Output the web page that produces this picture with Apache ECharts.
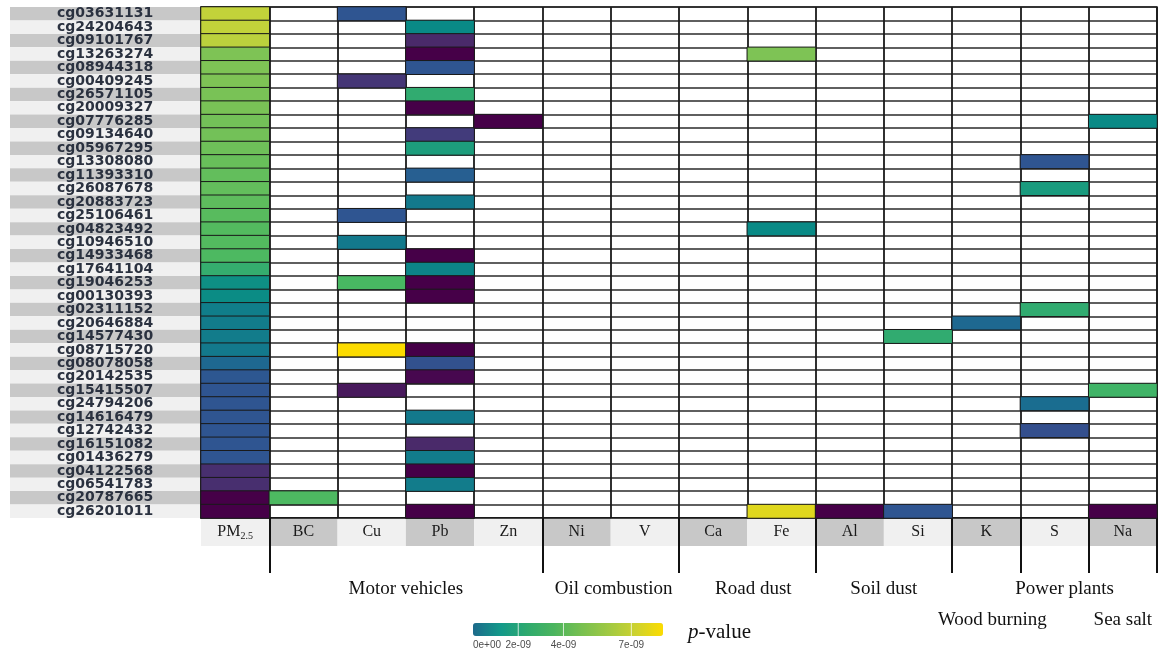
<!DOCTYPE html>
<html><head><meta charset="utf-8">
<script src="https://cdn.jsdelivr.net/npm/echarts@6/dist/echarts.min.js"></script>
<style>html,body{margin:0;padding:0;background:#fff}#c{width:1170px;height:656px}</style>
</head><body><div id="c"></div><script>
// ---------- data ----------
const cpgSites = ['cg03631131','cg24204643','cg09101767','cg13263274','cg08944318','cg00409245','cg26571105','cg20009327','cg07776285','cg09134640','cg05967295','cg13308080','cg11393310','cg26087678','cg20883723','cg25106461','cg04823492','cg10946510','cg14933468','cg17641104','cg19046253','cg00130393','cg02311152','cg20646884','cg14577430','cg08715720','cg08078058','cg20142535','cg15415507','cg24794206','cg14616479','cg12742432','cg16151082','cg01436279','cg04122568','cg06541783','cg20787665','cg26201011'];
const pollutants = ['PM2.5','BC','Cu','Pb','Zn','Ni','V','Ca','Fe','Al','Si','K','S','Na'];

// colour level (0 = darkest, 1 = brightest) read from each cell
const pm25Level = [0.90,0.90,0.89,0.80,0.80,0.80,0.79,0.79,0.78,0.78,0.77,0.76,0.75,0.75,0.74,0.73,0.72,0.72,0.71,0.65,0.52,0.51,0.46,0.45,0.45,0.44,0.38,0.31,0.30,0.30,0.30,0.30,0.30,0.30,0.12,0.12,0.00,0.00];
const bcLevel = [['cg20787665',0.71]];
const cuLevel = [['cg03631131',0.30],['cg00409245',0.15],['cg25106461',0.30],['cg10946510',0.44],['cg19046253',0.70],['cg08715720',1.00],['cg15415507',0.06]];
const pbLevel = [['cg24204643',0.50],['cg09101767',0.10],['cg13263274',0.00],['cg08944318',0.30],['cg26571105',0.64],['cg20009327',0.00],['cg09134640',0.17],['cg05967295',0.58],['cg11393310',0.34],['cg20883723',0.44],['cg14933468',0.00],['cg17641104',0.48],['cg19046253',0.00],['cg00130393',0.00],['cg08715720',0.00],['cg08078058',0.28],['cg20142535',0.02],['cg14616479',0.44],['cg16151082',0.10],['cg01436279',0.45],['cg04122568',0.00],['cg06541783',0.45],['cg26201011',0.00]];
const znLevel = [['cg07776285',0.00]];
const niLevel = [];
const vLevel = [];
const caLevel = [];
const feLevel = [['cg13263274',0.80],['cg04823492',0.50],['cg26201011',0.95]];
const alLevel = [['cg26201011',0.00]];
const siLevel = [['cg14577430',0.64],['cg26201011',0.30]];
const kLevel = [['cg20646884',0.38]];
const sLevel = [['cg13308080',0.30],['cg26087678',0.57],['cg02311152',0.64],['cg24794206',0.40],['cg12742432',0.27]];
const naLevel = [['cg07776285',0.50],['cg15415507',0.68],['cg26201011',0.00]];

// source groups
const groupNames = ['Motor vehicles','Oil combustion','Road dust','Soil dust','Power plants','Wood burning','Sea salt'];
const groupFirst = ['BC','Ni','Ca','Al','S','K','Na'];
const groupLast  = ['Zn','V','Fe','Si','S','K','Na'];
const groupTier  = [0,0,0,0,0,1,1];
const separatorStarts = ['BC','Ni','Ca','Al','K','S','Na'];

// colour legend
const legendMax = 8.4e-9;
const legendTickValues = [0, 2e-9, 4e-9, 7e-9];
const legendTickLabels = ['0e+00','2e-09','4e-09','7e-09'];

// ---------- build ----------
const levelPalette = ['#460048','#4a2a6a','#3f4282','#2f5591','#1a6d90','#098a86','#22a27a','#48b862','#7ec355','#c2d23a','#fcdc00'];
const legendColors = ['#1d6a8b','#13998a','#2eaa6e','#4cb55e','#78c050','#a0c943','#cdd22f','#fcdc00'];

const sparseCols = [bcLevel,cuLevel,pbLevel,znLevel,niLevel,vLevel,caLevel,feLevel,alLevel,siLevel,kLevel,sLevel,naLevel];
const cells = [];
pm25Level.forEach((v,i)=>cells.push([0,i,v]));
sparseCols.forEach((col,ci)=>col.forEach(([site,v])=>cells.push([ci+1,cpgSites.indexOf(site),v])));
const sepIdx = separatorStarts.map(p=>pollutants.indexOf(p));

const serif = '"Liberation Serif","Times New Roman",serif';
const chart = echarts.init(document.getElementById('c'));
chart.setOption({
  animation:false,
  backgroundColor:'#fff',
  grid:[
    {left:201,right:13,top:7,bottom:138,show:true,borderColor:'#1e1e1e',borderWidth:1.5,backgroundColor:'#fff'},
    {left:201,right:13,top:518,height:28},
    {left:10,width:191,top:7,bottom:138}
  ],
  xAxis:[
    {gridIndex:0,type:'category',data:pollutants,position:'bottom',
     axisLine:{show:true,onZero:false,lineStyle:{color:'#111',width:1.5}},axisTick:{show:false},axisLabel:{show:false},
     splitLine:{show:true,interval:0,lineStyle:{color:'#1a1a1a',width:1.8}}},
    {gridIndex:1,type:'category',data:pollutants,position:'top',
     axisLine:{show:false,onZero:false},
     axisTick:{show:true,inside:true,length:55,interval:(i)=>sepIdx.includes(i),lineStyle:{color:'#111',width:2}},
     axisLabel:{inside:true,margin:14,interval:0,verticalAlign:'middle',fontFamily:serif,fontSize:16,color:'#1a1a1a',
       formatter:(v)=>v==='PM2.5'?'{a|PM}{s|2.5}':v,
       rich:{a:{fontFamily:serif,fontSize:16,lineHeight:20,color:'#1a1a1a'},
             s:{fontFamily:serif,fontSize:10,lineHeight:20,padding:[8,0,0,0],color:'#1a1a1a'}}},
     splitArea:{show:true,interval:0,areaStyle:{color:['#f0f0f0','#c8c8c8']}}},
    {gridIndex:2,type:'value',show:false}
  ],
  yAxis:[
    {gridIndex:0,type:'category',data:cpgSites,inverse:true,
     axisLine:{show:false},axisTick:{show:false},axisLabel:{show:false},
     splitLine:{show:true,interval:0,lineStyle:{color:'#2a2a2a',width:1.5}}},
    {gridIndex:1,type:'value',show:false},
    {gridIndex:2,type:'category',data:cpgSites,inverse:true,
     axisLine:{show:false,onZero:false},axisTick:{show:false},
     splitArea:{show:true,interval:0,areaStyle:{color:['#c8c8c8','#f0f0f0']}},
     axisLabel:{inside:true,margin:95,align:'center',interval:0,fontFamily:'"DejaVu Sans",Arial,sans-serif',fontWeight:'bold',fontSize:14,color:'#2b3240'}}
  ],
  visualMap:[
    {type:'continuous',show:false,seriesIndex:0,dimension:2,min:0,max:1,inRange:{color:levelPalette}},
    {type:'continuous',show:true,seriesIndex:1,min:0,max:legendMax,orient:'horizontal',left:473,top:623,
     itemWidth:13,itemHeight:190,padding:0,calculable:false,hoverLink:false,inRange:{color:legendColors}}
  ],
  series:[
    {type:'heatmap',xAxisIndex:0,yAxisIndex:0,data:cells,
     itemStyle:{borderColor:'#1a1a1a',borderWidth:1},emphasis:{disabled:true},z:2},
    {type:'heatmap',xAxisIndex:0,yAxisIndex:0,data:[]}
  ]
});

// ---------- graphic (legend labels & source group names) ----------
const barX0 = 473, barW = 190, barY0 = 623, barH = 13;
const g = [];
legendTickValues.forEach((v,i)=>{
  const x = barX0 + v/legendMax*barW;
  if (v>0) g.push({type:'line',shape:{x1:x,y1:barY0,x2:x,y2:barY0+barH},style:{stroke:'rgba(255,255,255,0.75)',lineWidth:1},z:100});
  g.push({type:'text',x:x,y:645,
    style:{text:legendTickLabels[i],fontFamily:'Arial,"Liberation Sans",sans-serif',fontSize:10,fill:'#4d4d4d',
      align: i===0?'left':'center', textAlign: i===0?'left':'center', verticalAlign:'middle', textVerticalAlign:'middle'},z:100});
});
g.push({type:'text',x:688,y:632,style:{text:'{i|p}{r|-value}',rich:{i:{fontFamily:serif,fontSize:21,fontStyle:'italic',fill:'#111'},r:{fontFamily:serif,fontSize:21,fill:'#111'}},
  align:'left',textAlign:'left',verticalAlign:'middle',textVerticalAlign:'middle'},z:100});
const groupDx = [0,3,6,0,10,6,0];
const tierY = [589,620];
groupNames.forEach((n,i)=>{
  const x1 = chart.convertToPixel({xAxisIndex:0}, groupFirst[i]);
  const x2 = chart.convertToPixel({xAxisIndex:0}, groupLast[i]);
  g.push({type:'text',x:(x1+x2)/2+groupDx[i],y:tierY[groupTier[i]],
    style:{text:n,fontFamily:serif,fontSize:19,fill:'#111',align:'center',textAlign:'center',verticalAlign:'middle',textVerticalAlign:'middle'},z:100});
});
chart.setOption({graphic:g});
</script></body></html>
